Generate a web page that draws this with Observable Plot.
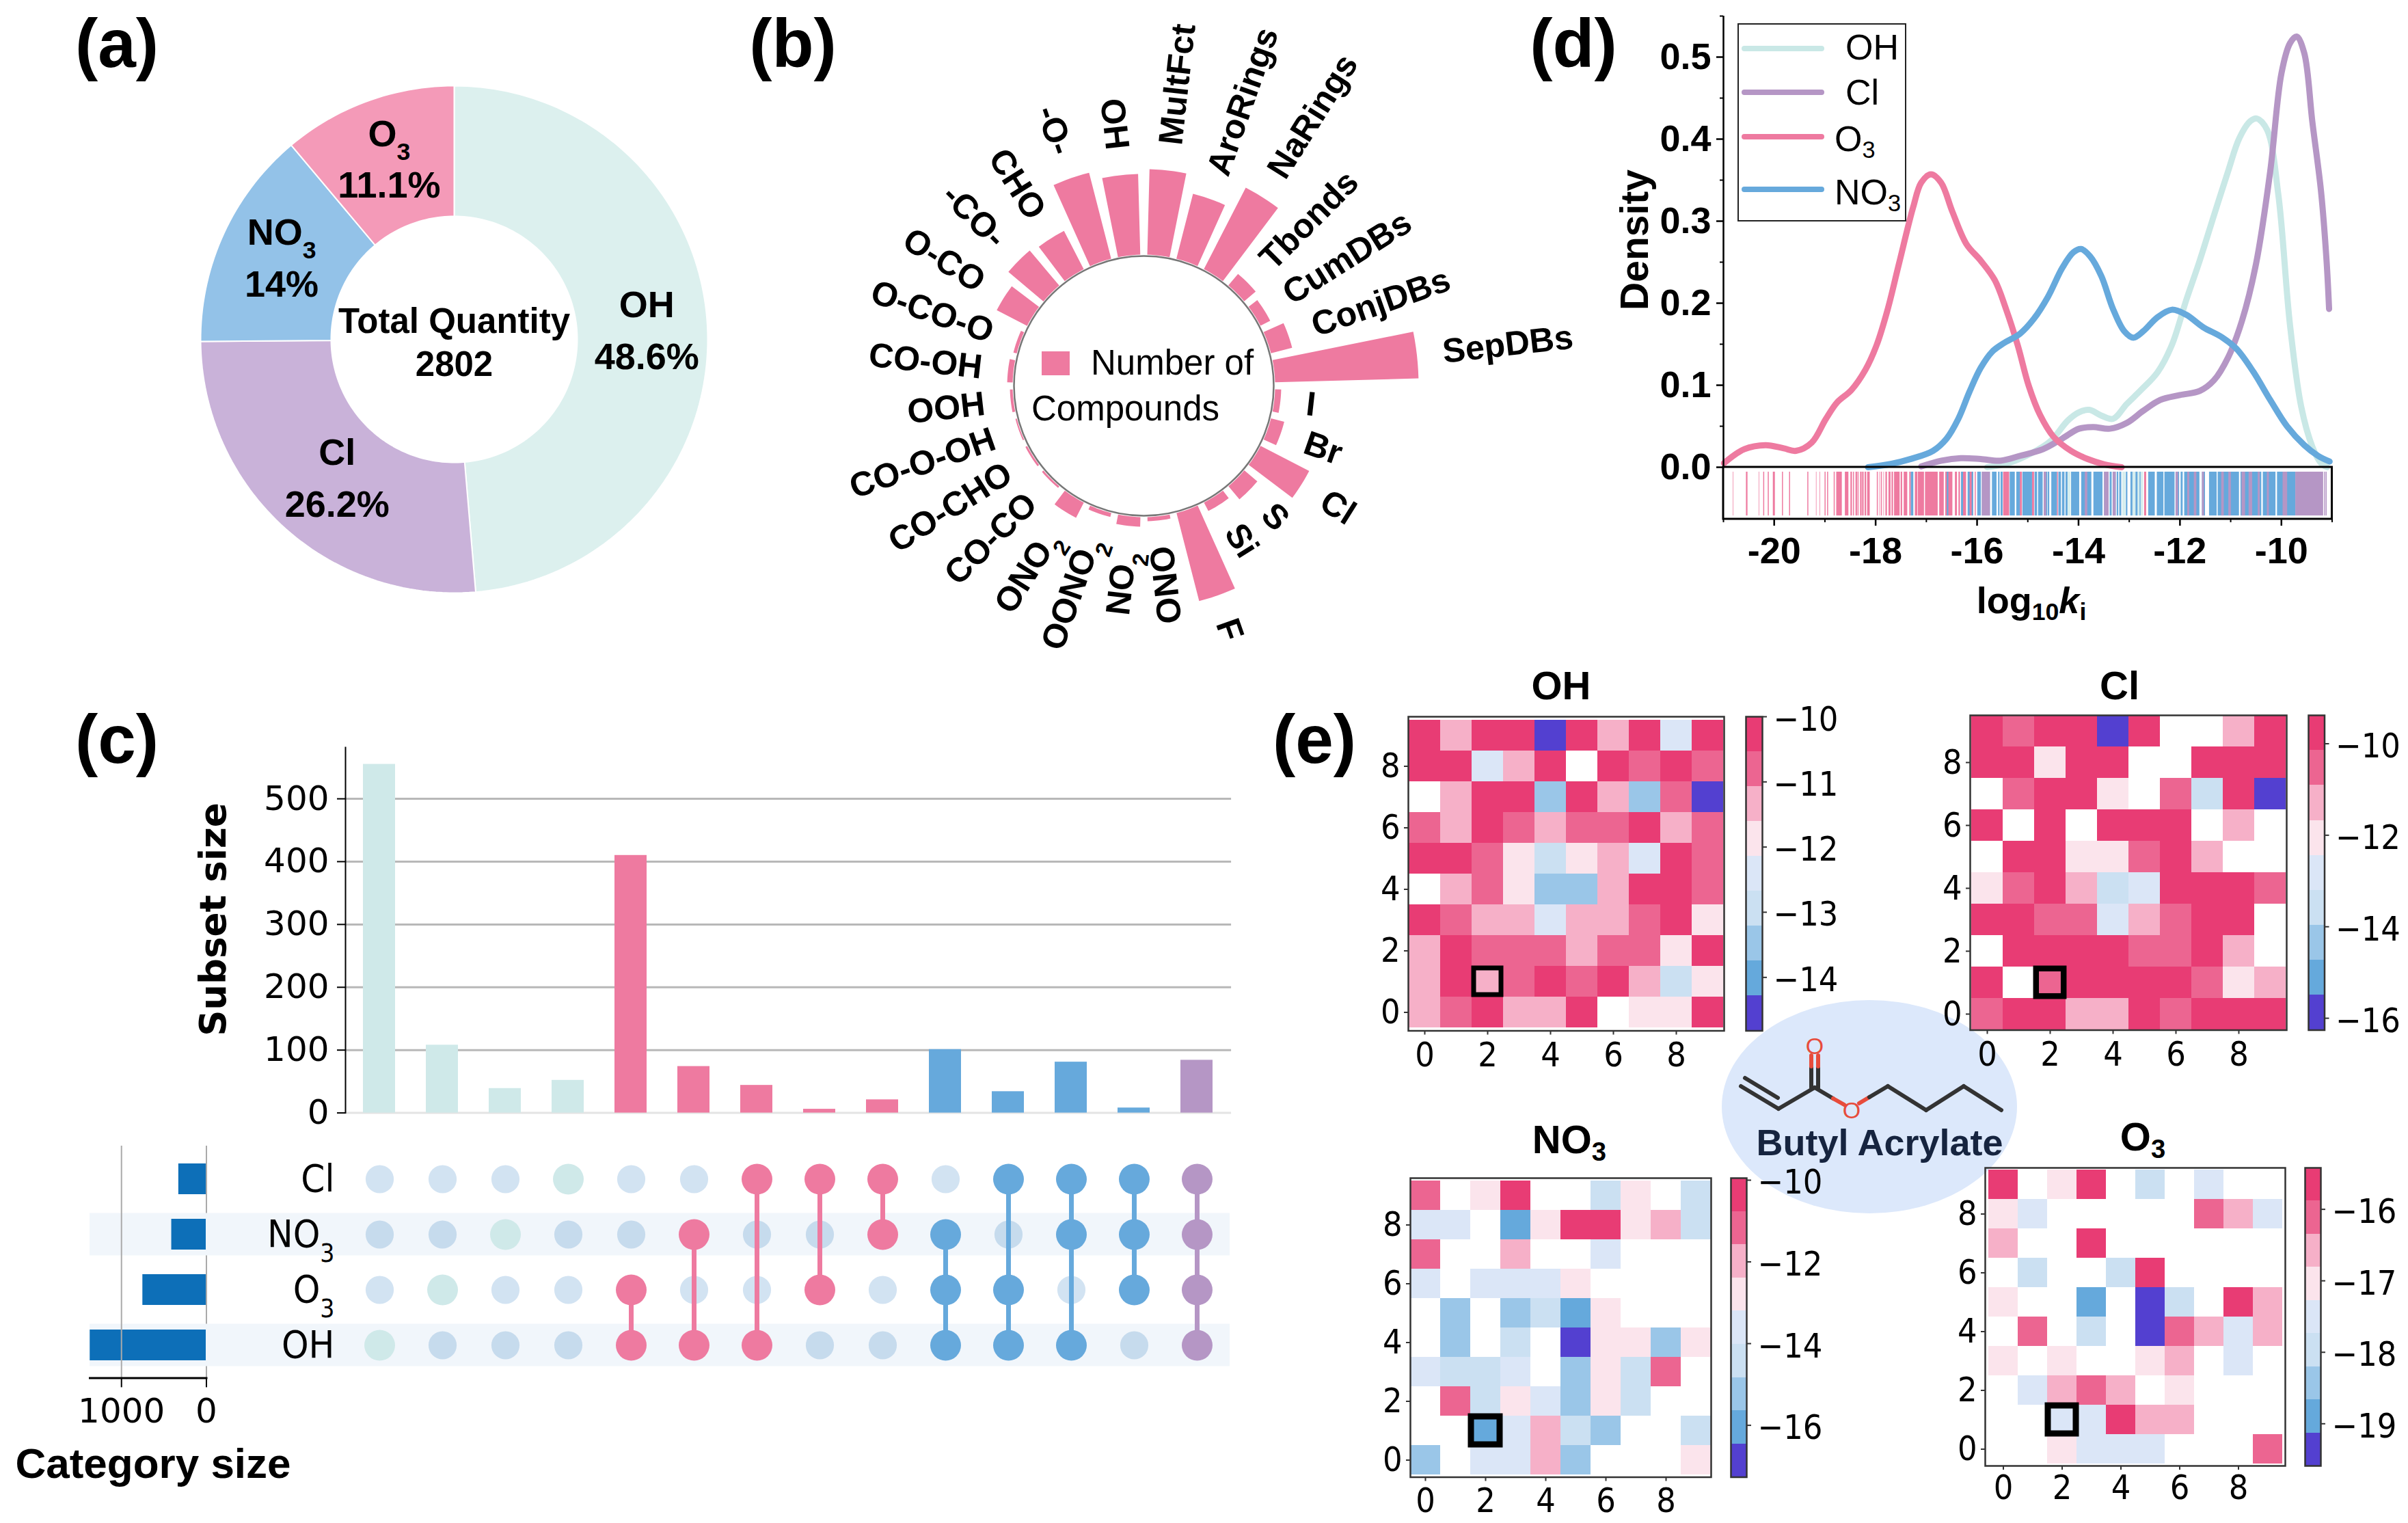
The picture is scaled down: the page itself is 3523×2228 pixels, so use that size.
<!DOCTYPE html>
<html><head><meta charset="utf-8">
<script src="https://cdn.jsdelivr.net/npm/d3@7"></script>
<script src="https://cdn.jsdelivr.net/npm/@observablehq/plot@0.6"></script>
<style>
html,body{margin:0;padding:0;background:#fff}
#root{position:relative;width:3523px;height:2228px;overflow:hidden;background:#fff}
.lb{position:absolute;white-space:nowrap;line-height:1;color:#000}
.lb sub{font-size:.66em;vertical-align:baseline;position:relative;top:.28em;line-height:0}
</style></head>
<body><div id="root"></div>
<script>
// ---------- (a) donut ----------
const sliceNames = ["OH","Cl","NO₃","O₃"];
const slicePercents = [48.6,26.2,14,11.1];
const sliceLabels = ["48.6%","26.2%","14%","11.1%"];
const sliceColors = ["#dcf0ee","#c9b2d9","#93c2e8","#f49ab8"];
const totalQuantity = 2802;

// ---------- (b) circular bars, clockwise from the top ----------
const groupNames = ["MultFct","AroRings","NaRings","Tbonds","CumDBs","ConjDBs","SepDBs","I","Br","Cl","S","Si","F","ONO","NO₂","OONO₂","ONO₂","CO-CO","CO-CHO","CO-O-OH","OOH","CO-OH","O-CO-O","O-CO","-CO-","CHO","-O-","OH"];
const groupCounts = [125,98,134,22,16,32,210,9,20,80,25,14,133,6,14,6,25,3,3,2,4,8,5,50,67,63,130,118];

// ---------- (c) upset ----------
const setNames = ["Cl","NO₃","O₃","OH"];
const setSizes = [327,410,750,1370];
const subsetSizes = [555,108,39,52,410,74,44,6,21,101,34,81,8,84];
const subsetMembers = [["OH"],["O₃"],["NO₃"],["Cl"],["O₃","OH"],["NO₃","OH"],["Cl","OH"],["Cl","O₃"],["Cl","NO₃"],["NO₃","O₃","OH"],["Cl","O₃","OH"],["Cl","NO₃","OH"],["Cl","NO₃","O₃"],["Cl","NO₃","O₃","OH"]];
const subsetTicks = [0,100,200,300,400,500];

// ---------- (d) density ----------
const kdeOH = [[-15.8,0],[-15.38,.005],[-14.93,.017],[-14.55,.032],[-14.21,.057],[-13.99,.067],[-13.79,.07],[-13.55,.063],[-13.32,.059],[-13.05,.077],[-12.77,.094],[-12.44,.116],[-12.16,.149],[-11.88,.203],[-11.61,.252],[-11.33,.307],[-11.05,.361],[-10.83,.401],[-10.61,.422],[-10.48,.425],[-10.28,.411],[-10.06,.332],[-9.83,.173],[-9.61,.074],[-9.39,.025],[-9.22,.005],[-9.1,0]];
const kdeCl = [[-17.1,.001],[-16.7,.008],[-16.32,.011],[-15.93,.01],[-15.54,.008],[-15.15,.014],[-14.7,.022],[-14.32,.035],[-13.99,.047],[-13.71,.049],[-13.38,.047],[-13.05,.054],[-12.72,.069],[-12.39,.082],[-12,.088],[-11.61,.093],[-11.33,.106],[-11.05,.134],[-10.78,.178],[-10.5,.248],[-10.22,.361],[-10,.48],[-9.83,.517],[-9.7,.525],[-9.55,.505],[-9.39,.421],[-9.22,.337],[-9.11,.252],[-9.06,.193]];
const kdeO3 = [[-20.99,.005],[-20.59,.022],[-20.17,.027],[-19.81,.023],[-19.57,.02],[-19.26,.03],[-18.98,.059],[-18.76,.079],[-18.48,.094],[-18.2,.119],[-17.98,.149],[-17.76,.193],[-17.54,.248],[-17.26,.317],[-17.1,.347],[-16.91,.357],[-16.71,.347],[-16.49,.312],[-16.21,.272],[-15.93,.252],[-15.65,.228],[-15.43,.193],[-15.2,.149],[-14.98,.099],[-14.76,.064],[-14.49,.037],[-14.15,.02],[-13.82,.01],[-13.49,.0035],[-13.15,0]];
const kdeNO3 = [[-18.15,0],[-17.7,.004],[-17.26,.011],[-16.87,.02],[-16.6,.035],[-16.37,.059],[-16.15,.092],[-15.93,.121],[-15.7,.141],[-15.48,.151],[-15.15,.163],[-14.88,.181],[-14.6,.208],[-14.32,.243],[-14.1,.262],[-13.95,.266],[-13.77,.257],[-13.55,.233],[-13.32,.193],[-13.1,.166],[-12.92,.158],[-12.72,.166],[-12.44,.183],[-12.16,.192],[-11.88,.186],[-11.55,.171],[-11.16,.158],[-10.88,.144],[-10.55,.116],[-10.22,.082],[-9.89,.05],[-9.55,.027],[-9.28,.014],[-9.05,.007]];
const densityTicks = [0,.1,.2,.3,.4,.5];
const densityMinor = [.05,.15,.25,.35,.45,.55];
const logTicks = [-20,-18,-16,-14,-12,-10];
const logMinor = [-21,-19,-17,-15,-13,-11,-9];
// rug runs read from the strip [from,to]
const rugO3 = [[-20.81,-20.80],[-20.55,-20.52],[-20.30,-20.29],[-20.21,-20.19],[-20.12,-20.10],[-20.02,-19.98],[-19.84,-19.82],[-19.70,-19.68],[-19.34,-19.32],[-19.17,-19.16],[-19.10,-19.09],[-19.00,-18.98],[-18.95,-18.93],[-18.82,-18.80],[-18.77,-18.66],[-18.60,-18.53],[-18.49,-18.46],[-18.44,-18.42],[-18.39,-18.36],[-18.35,-18.33],[-18.30,-18.27],[-18.26,-18.23],[-18.21,-18.18],[-18.16,-18.11],[-17.97,-17.95],[-17.92,-17.91],[-17.89,-17.87],[-17.84,-17.83],[-17.80,-17.77],[-17.74,-17.70],[-17.68,-17.65],[-17.63,-17.52],[-17.50,-17.47],[-17.44,-17.37],[-17.33,-17.30],[-17.22,-17.17],[-17.16,-17.04],[-17.02,-16.77],[-16.74,-16.65],[-16.62,-16.48],[-16.43,-16.39],[-16.36,-16.33],[-16.29,-16.21],[-16.17,-16.07],[-16.04,-16.02],[-15.48,-15.36],[-15.15,-15.11],[-14.91,-14.87],[-14.42,-14.40],[-12.70,-12.66]];
const rugNO3 = [[-17.30,-17.25],[-16.59,-16.56],[-16.31,-16.27],[-16.18,-16.14],[-16.10,-16.07],[-15.99,-15.92],[-15.90,-15.74],[-15.70,-15.61],[-15.58,-15.55],[-15.53,-15.49],[-15.35,-15.25],[-15.22,-15.15],[-15.10,-14.91],[-14.86,-14.81],[-14.79,-14.70],[-14.68,-14.61],[-14.60,-14.57],[-14.53,-14.42],[-14.39,-14.34],[-14.32,-14.27],[-14.25,-14.21],[-14.14,-13.98],[-13.94,-13.74],[-13.70,-13.52],[-13.49,-13.40],[-13.38,-13.34],[-13.32,-13.26],[-13.24,-13.21],[-13.19,-13.15],[-13.06,-13.03],[-12.97,-12.93],[-12.87,-12.83],[-12.79,-12.77],[-12.62,-12.49],[-12.45,-12.32],[-12.30,-12.10],[-12.08,-12.01],[-11.98,-11.94],[-11.91,-11.61],[-11.56,-11.50],[-11.42,-11.27],[-11.25,-10.83],[-10.80,-10.39],[-10.36,-10.11],[-10.08,-9.72]];
const rugCl = [[-15.90,-15.74],[-14.68,-14.63],[-13.87,-13.82],[-13.49,-13.40],[-13.32,-13.26],[-12.08,-12.03],[-11.85,-11.81],[-11.72,-11.67],[-11.56,-11.52],[-11.18,-11.13],[-11.04,-10.99],[-10.78,-10.71],[-10.64,-10.57],[-10.46,-10.42],[-10.28,-10.24],[-9.97,-9.88],[-9.72,-9.17],[-9.15,-9.13],[-9.12,-9.10]];
const rugOH = [[-14.21,-14.15],[-13.13,-13.07],[-12.93,-12.87],[-12.83,-12.79],[-12.77,-12.72]];

// ---------- (e) heat maps: colour band index per cell (0 = top of the bar), top row first ----------
const N = null;
const gridOH = [[0,2,0,0,8,0,2,0,4,0],[0,0,4,2,0,N,0,1,0,1],[N,2,0,0,6,0,2,6,1,8],[1,2,0,1,2,1,1,0,2,1],[0,0,1,3,5,3,2,4,0,1],[N,2,1,3,6,6,2,0,0,1],[0,1,2,2,4,2,2,1,0,3],[2,0,1,1,1,2,1,1,3,0],[2,0,2,1,0,1,0,2,5,3],[2,1,0,2,2,0,N,3,3,0]];
const gridCl = [[0,1,0,0,8,0,N,N,2,0],[0,0,3,0,0,N,N,0,0,0],[N,1,0,0,3,N,1,5,0,8],[0,N,0,N,0,0,0,N,2,N],[N,0,0,3,3,1,0,2,N,N],[3,1,0,2,5,4,0,0,0,1],[0,0,1,1,4,2,1,0,0,N],[N,0,0,0,0,1,1,0,2,N],[0,N,1,0,0,0,0,1,3,2],[1,0,0,2,2,0,1,0,0,0]];
const gridNO3 = [[1,N,3,0,N,N,5,3,N,5],[4,4,N,7,3,0,0,3,2,5],[1,N,N,2,N,N,4,N,N,N],[4,N,4,4,4,3,N,N,N,N],[N,6,N,6,5,7,3,N,N,N],[N,6,N,5,N,8,3,3,6,3],[4,5,5,4,N,6,3,5,1,N],[N,1,5,3,4,6,3,5,N,N],[N,N,7,4,2,5,6,N,N,5],[6,N,4,4,2,6,N,N,N,3]];
const gridO3 = [[0,N,3,0,N,5,N,4,N,N],[3,4,N,N,N,N,N,1,2,4],[2,N,N,0,N,N,N,N,N,N],[N,5,N,N,5,0,N,N,N,N],[3,N,N,7,N,8,5,N,0,2],[N,1,N,5,N,8,1,2,4,2],[3,N,3,N,N,3,2,N,4,N],[N,4,2,1,2,N,3,N,N,N],[N,N,4,4,0,2,2,N,N,N],[N,N,3,4,4,4,N,N,N,1]];
const barLimitsOH = [-14.82,-10], barLimitsCl = [-16.26,-9.38], barLimitsNO3 = [-17.27,-9.95], barLimitsO3 = [-19.59,-15.42];
const barTicksOH = [-10,-11,-12,-13,-14], barTicksCl = [-10,-12,-14,-16], barTicksNO3 = [-10,-12,-14,-16], barTicksO3 = [-16,-17,-18,-19];
const bandColors = ["#e83c74","#ec6591","#f6b0c8","#fbe4ec","#dbe6f7","#cbe0f2","#9ac6e8","#65a9dc","#5340d0"];

// ---------- helpers ----------
const ARIAL = '"Liberation Sans",Arial,sans-serif';
const DV = '"DejaVu Sans",sans-serif';
const DVC = '"DejaVu Sans Condensed","DejaVu Sans",sans-serif';
const PINK="#ee7aa0", BLUE="#66a9dc", PURPLE="#b596c5", TEAL="#cfe9e9";
const root = document.getElementById("root");
const sty = f => ({background:"transparent",overflow:"visible",maxWidth:"none",height:"auto",fontFamily:f});
function subs(svg){
  const w = document.createTreeWalker(svg,NodeFilter.SHOW_TEXT), list=[];
  while(w.nextNode()) if(/[₂₃]/.test(w.currentNode.nodeValue)) list.push(w.currentNode);
  for(const n of list){
    const m = n.nodeValue.match(/^(.*)([₂₃])$/); if(!m) continue;
    const t = document.createElementNS("http://www.w3.org/2000/svg","tspan");
    t.setAttribute("baseline-shift","sub"); t.setAttribute("font-size","66%");
    t.textContent = m[2]==="₂"?"2":"3";
    n.nodeValue = m[1]; n.parentNode.insertBefore(t,n.nextSibling);
  }
}
function put(p,x,y){p.style.position="absolute";p.style.left=x+"px";p.style.top=y+"px";subs(p);root.append(p);return p;}
function label(html,x,y,o={}){
  const d=document.createElement("div");d.className="lb";d.innerHTML=html;
  d.style.left=x+"px";d.style.top=y+"px";
  d.style.fontFamily=o.family||ARIAL;d.style.fontSize=(o.size||50)+"px";d.style.fontWeight=o.weight||"normal";
  if(o.color)d.style.color=o.color;
  const tx=o.anchor==="start"?"0":"-50%";
  d.style.transform=`translate(${tx},-50%)`+(o.rotate?` rotate(${o.rotate}deg)`:"");
  root.append(d);return d;
}
function box(x,y,w,h,css){const d=document.createElement("div");d.style.cssText=`position:absolute;left:${x}px;top:${y}px;width:${w}px;height:${h}px;box-sizing:border-box;${css}`;root.append(d);return d;}
const polar=(deg,r)=>{const a=deg*Math.PI/180;return {x:r*Math.sin(a),y:-r*Math.cos(a)};};

// panel letters
[["(a)",171,63],["(b)",1160,63],["(d)",2302,63],["(c)",171,1081],["(e)",1923,1081]].forEach(([t,x,y])=>label(t,x,y,{size:100,weight:"bold"}));

// ---------- (a) ----------
(function(){
  const R=371,r0=180,cx=664,cy=495.5,pad=380;
  const nudge=[[4,-7],[16,-8],[0,-8],[0,-8]];
  const total=d3.sum(slicePercents);let acc=0;const pts=[],mids=[];
  slicePercents.forEach((v,i)=>{
    const a0=acc/total*360,a1=(acc+v)/total*360;acc+=v;
    const n=Math.ceil((a1-a0)/1.5);
    for(let k=0;k<=n;k++)pts.push({s:i,...polar(a0+(a1-a0)*k/n,R)});
    for(let k=n;k>=0;k--)pts.push({s:i,...polar(a0+(a1-a0)*k/n,r0)});
    pts.push({s:i,...polar(a0,R)});
    const p=polar((a0+a1)/2,278);
    mids.push({text:sliceNames[i]+"\n"+sliceLabels[i],x:p.x+nudge[i][0],y:p.y+nudge[i][1]});
  });
  put(Plot.plot({width:2*pad,height:2*pad,margin:0,style:sty(ARIAL),
    x:{domain:[-pad,pad],axis:null},y:{domain:[pad,-pad],axis:null},color:{type:"identity"},
    marks:[
      Plot.line(pts,{x:"x",y:"y",z:"s",fill:d=>sliceColors[d.s],stroke:"white",strokeWidth:2}),
      Plot.text(mids,{x:"x",y:"y",text:"text",fontSize:54,fontWeight:"bold",fill:"black",lineHeight:1.4}),
      Plot.text([{x:0,y:0}],{x:"x",y:"y",dy:2,text:()=>"Total Quantity\n"+totalQuantity,fontSize:51,fontWeight:"bold",fill:"black",lineHeight:1.24})
    ]}),cx-pad,cy-pad);
})();

// ---------- (b) ----------
(function(){
  const r0=190,cx=1673,cy=564,gap=40,step=360/groupNames.length,first=6.4,hw=4.9;
  const L=430,Rt=560,T=564,B=446,pts=[];
  const rows=groupNames.map((name,i)=>({name,i,v:groupCounts[i],a:first+i*step}));
  rows.forEach(d=>{
    for(let k=0;k<=6;k++)pts.push({i:d.i,...polar(d.a-hw+2*hw*k/6,r0+d.v+2)});
    for(let k=6;k>=0;k--)pts.push({i:d.i,...polar(d.a-hw+2*hw*k/6,r0+2)});
  });
  const lab=d=>polar(d.a,r0+d.v+gap);
  const common={x:d=>lab(d).x,y:d=>lab(d).y,text:"name",fontSize:50,fontWeight:"bold",fill:"black"};
  put(Plot.plot({width:L+Rt,height:T+B,margin:0,style:sty(ARIAL),
    x:{domain:[-L,Rt],axis:null},y:{domain:[B,-T],axis:null},
    marks:[
      Plot.dot([{x:0,y:0}],{x:"x",y:"y",r:r0,fill:"white",stroke:"#777",strokeWidth:2.5}),
      Plot.line(pts,{x:"x",y:"y",z:"i",fill:PINK,stroke:"none"}),
      Plot.text(rows.filter(d=>d.i<=12),{...common,textAnchor:"start",rotate:d=>d.a-90}),
      Plot.text(rows.filter(d=>d.i>12),{...common,textAnchor:"end",rotate:d=>d.a+90})
    ]}),cx-L,cy-T);
  box(1524,514,41,35,`background:${PINK}`);
  label("Number of",1596,530,{size:51,anchor:"start"});
  label("Compounds",1509,597,{size:51,anchor:"start"});
})();

// ---------- (c) ----------
(function(){
  const colour=m=>m.length===1?TEAL:m.length===2?PINK:m.length===3?BLUE:PURPLE;
  const cols=subsetSizes.map((_,i)=>i);
  const table=subsetSizes.map((size,i)=>({i,size,fill:colour(subsetMembers[i])}));
  // bars
  const left=504.7,right=1800.8,ml=200,top0=1092.7,y0=1627.3;
  put(Plot.plot({width:right-left+ml,height:y0-top0+50,marginLeft:ml,marginRight:0,marginTop:0,marginBottom:50,style:sty(DV),
    x:{type:"band",domain:cols,paddingInner:.484,paddingOuter:.242,axis:null},
    y:{domain:[0,581.7]},color:{type:"identity"},
    marks:[
      Plot.ruleY([0],{stroke:"#e4e4e4",strokeWidth:3}),
      Plot.ruleY(subsetTicks.slice(1),{stroke:"#b8b8b8",strokeWidth:3}),
      Plot.barY(table,{x:"i",y:"size",fill:"fill"}),
      Plot.frame({anchor:"left",stroke:"black",strokeWidth:2}),
      Plot.axisY({ticks:subsetTicks,tickSize:12,tickPadding:12,fontSize:50,label:null,strokeWidth:2,fill:"black"})
    ]}),left-ml,top0);
  label("Subset size",311,1345,{family:DV,size:53,weight:"bold",rotate:-90});

  // category bars
  const yDom=setNames, yR=[7.2,332.4], stripes=["NO₃","OH"], rows=setNames.map((s,i)=>({s,size:setSizes[i]}));
  const gTop=1675.6, frameH=339.4;
  put(Plot.plot({width:170.5,height:frameH+80,margin:0,marginBottom:80,style:sty(DV),
    x:{domain:[1372,0],axis:null},y:{type:"band",domain:yDom,range:yR,padding:0,axis:null},
    marks:[
      Plot.cell(stripes,{y:d=>d,fill:"#f1f6fb",insetTop:9.5,insetBottom:9.5}),
      Plot.barX(rows,{x1:()=>0,x2:"size",y:"s",fill:"#0d6fb8",insetTop:18,insetBottom:18}),
      Plot.ruleX([1000,0],{stroke:"#aaa",strokeWidth:2}),
      Plot.frame({anchor:"bottom",stroke:"black",strokeWidth:3}),
      Plot.axisX({ticks:[1000,0],tickSize:14,tickPadding:16,fontSize:50,tickFormat:d=>String(d),label:null,strokeWidth:2,fill:"black"})
    ]}),130.5,gTop);
  label("Category size",224,2141,{size:62,weight:"bold"});

  // matrix
  const mLeft=301, mW=1498;
  const cells=[];cols.forEach(i=>setNames.forEach(s=>cells.push({i,s,on:subsetMembers[i].includes(s),m:subsetMembers[i]})));
  const offFill=d=>stripes.includes(d.s)?"#c6dbed":"#d2e3f2";
  const onFill=d=>colour(d.m);
  const links=cells.filter(d=>d.on&&d.m.length>1);
  put(Plot.plot({width:mW,height:frameH,margin:0,style:sty(DVC),
    x:{type:"band",domain:cols,range:[left-mLeft,right-mLeft],padding:0,axis:null},
    y:{type:"band",domain:yDom,range:yR,padding:0,axis:null},color:{type:"identity"},
    marks:[
      Plot.cell(stripes,{y:d=>d,fill:"#f1f6fb",insetTop:9.5,insetBottom:9.5}),
      Plot.dot(cells.filter(d=>!d.on),{x:"i",y:"s",r:20.6,fill:offFill}),
      Plot.line(links,{x:"i",y:"s",z:"i",stroke:onFill,strokeWidth:7}),
      Plot.dot(cells.filter(d=>d.on),{x:"i",y:"s",r:22.5,fill:onFill}),
      Plot.text(setNames,{y:d=>d,text:d=>d,frameAnchor:"left",dx:188,textAnchor:"end",fontSize:56,fill:"black"})
    ]}),mLeft,gTop);
})();

// ---------- (d) ----------
(function(){
  const ml=120,mb=90,L=2521,Rg=3411.5,T=23,B=759;
  const ser=[[kdeOH,"#c9e8e6"],[kdeCl,PURPLE],[kdeO3,PINK],[kdeNO3,BLUE]];
  const ry=[-.0592,-.0058];
  const rug=(arr,fill,o={})=>Plot.rect(arr,{x1:d=>d[0],x2:d=>d[1],y1:()=>ry[0],y2:()=>ry[1],fill,...o});
  put(Plot.plot({width:Rg-L+ml+10,height:B-T+mb,marginLeft:ml,marginRight:10,marginTop:0,marginBottom:mb,style:sty(ARIAL),
    x:{domain:[-21,-9]},y:{domain:[-.0633,.55]},
    marks:[
      rug(rugO3,PINK),rug(rugOH,"#d6eeee"),rug(rugNO3,BLUE),rug(rugCl,PURPLE),
      ...ser.map(([s,c])=>Plot.line(s,{x:d=>d[0],y:d=>d[1],stroke:c,strokeWidth:9,curve:"catmull-rom"})),
      Plot.rect([0],{x1:()=>-21,x2:()=>-9,y1:()=>-.0633,y2:()=>0,fill:"none",stroke:"black",strokeWidth:3}),
      Plot.ruleX([-21],{y1:0,y2:.55,stroke:"black",strokeWidth:2.5}),
      Plot.axisY({ticks:densityTicks,tickSize:10,tickPadding:8,fontSize:54,fontWeight:"bold",tickFormat:d3.format(".1f"),label:null,strokeWidth:2.5,fill:"black"}),
      Plot.axisY({ticks:densityMinor,tickSize:5,tickFormat:()=>"",label:null,strokeWidth:2}),
      Plot.axisX({ticks:logTicks,tickSize:10,tickPadding:16,fontSize:54,fontWeight:"bold",tickFormat:d=>"-"+Math.abs(d),label:null,strokeWidth:2.5,fill:"black"}),
      Plot.axisX({ticks:logMinor,tickSize:5,tickFormat:()=>"",label:null,strokeWidth:2})
    ]}),L-ml,T);
  label("Density",2391,351,{size:57,weight:"bold",rotate:-90});
  label("log<sub>10</sub><i>k</i><sub>i</sub>",2972,878,{size:54,weight:"bold"});
  box(2542,34,247,290,"border:2.5px solid #222");
  [[71,"#c9e8e6"],[135,PURPLE],[200,PINK],[277,BLUE]].forEach(([y,c])=>box(2548,y-4,121,8,`background:${c};border-radius:4px`));
  label("OH",2700,69,{size:52,anchor:"start"});label("Cl",2700,135,{size:52,anchor:"start"});
  label("O<sub>3</sub>",2684,203,{size:52,anchor:"start"});label("NO<sub>3</sub>",2684,281,{size:52,anchor:"start"});
})();

// ---------- (e) ----------
box(2518.5,1462.5,432,312,"background:#dce8fb;border-radius:50%");
(function(){
  const levels=d3.range(9), ten=d3.range(10);
  function heat(grid,lim,ticks,g){
    const cellsT=grid.flatMap((row,r)=>row.map((lv,c)=>({c,r:9-r,lv}))).filter(d=>d.lv!==null);
    const ml=80,mb=70;
    put(Plot.plot({width:g.x1-g.x0+ml+2,height:g.y1-g.y0+mb+2,marginLeft:ml,marginRight:2,marginTop:2,marginBottom:mb,style:sty(DVC),
      x:{type:"band",domain:ten,padding:0},y:{type:"band",domain:[...ten].reverse(),padding:0},
      color:{type:"ordinal",domain:levels,range:bandColors},
      marks:[
        Plot.cell(cellsT,{x:"c",y:"r",fill:"lv",shapeRendering:"crispEdges"}),
        Plot.cell([{c:2,r:1}],{x:"c",y:"r",fill:"none",stroke:"black",strokeWidth:g.bw,inset:g.bi}),
        Plot.frame({stroke:"#333",strokeWidth:2.5}),
        Plot.axisX({ticks:[0,2,4,6,8],tickSize:6,tickPadding:g.xp,fontSize:50,label:null,stroke:"#333",strokeWidth:2,fill:"black"}),
        Plot.axisY({ticks:[0,2,4,6,8],tickSize:6,tickPadding:6,fontSize:50,label:null,stroke:"#333",strokeWidth:2,fill:"black"})
      ]}),g.x0-ml,g.y0-2);
    const [lo,hi]=lim;
    const bands=levels.map(i=>({lv:i,top:hi-(hi-lo)*i/9,bot:hi-(hi-lo)*(i+1)/9}));
    put(Plot.plot({width:g.c1-g.c0+130,height:g.y1-g.y0+4,marginLeft:0,marginRight:130,marginTop:2,marginBottom:2,style:sty(DVC),
      x:{domain:[0,1],axis:null},y:{domain:[lo,hi]},color:{type:"ordinal",domain:levels,range:bandColors},
      marks:[
        Plot.rect(bands,{x1:()=>0,x2:()=>1,y1:"bot",y2:"top",fill:"lv",shapeRendering:"crispEdges"}),
        Plot.frame({stroke:"#333",strokeWidth:2.5}),
        Plot.axisY({anchor:"right",ticks,tickSize:6,tickFormat:()=>"",label:null,stroke:"#333",strokeWidth:2}),
        Plot.axisY({anchor:"right",ticks,tickSize:0,tickPadding:16,dy:4,fontSize:50,tickFormat:d=>"−"+Math.abs(d),label:null,fill:"black"})
      ]}),g.c0,g.y0-2);
  }
  heat(gridOH,barLimitsOH,barTicksOH,{x0:2060,x1:2522,y0:1048,y1:1507.5,c0:2553.5,c1:2577.5,bw:7,bi:3,xp:10});
  heat(gridCl,barLimitsCl,barTicksCl,{x0:2882,x1:3345,y0:1046,y1:1506.5,c0:3376.5,c1:3400,bw:8.5,bi:2.8,xp:10});
  heat(gridNO3,barLimitsNO3,barTicksNO3,{x0:2062.5,x1:2502.5,y0:1722.5,y1:2160,c0:2532,c1:2555,bw:9,bi:1,xp:9});
  heat(gridO3,barLimitsO3,barTicksO3,{x0:2903.5,x1:3342.5,y0:1708,y1:2144,c0:3372,c1:3395,bw:9,bi:1,xp:7});
  label("OH",2284,1003,{size:58,weight:"bold"});
  label("Cl",3101,1003,{size:58,weight:"bold"});
  label("NO<sub>3</sub>",2296,1667,{size:58,weight:"bold"});
  label("O<sub>3</sub>",3135,1663,{size:58,weight:"bold"});
  label("Butyl Acrylate",2750,1671,{size:54,weight:"bold",color:"#16243f"});
})();

// molecule sketch (decoration, not data)
(function(){
  const ns="http://www.w3.org/2000/svg";
  const s=document.createElementNS(ns,"svg");
  s.setAttribute("width",3523);s.setAttribute("height",2228);
  s.style.cssText="position:absolute;left:0;top:0;pointer-events:none";
  const seg=(a,b,c,d,col)=>{const l=document.createElementNS(ns,"line");
    l.setAttribute("x1",a);l.setAttribute("y1",b);l.setAttribute("x2",c);l.setAttribute("y2",d);
    l.setAttribute("stroke",col);l.setAttribute("stroke-width",6);l.setAttribute("stroke-linecap","round");s.append(l);};
  const K="#333",Rd="#e74c3c";
  seg(2547,1589,2602,1622,K);seg(2553,1577,2601,1606,K);seg(2602,1622,2655,1591,K);
  seg(2650,1591,2650,1560,K);seg(2660,1591,2660,1560,K);seg(2650,1560,2650,1544,Rd);seg(2660,1560,2660,1544,Rd);
  seg(2655,1591,2682,1607,K);seg(2682,1607,2698,1616,Rd);seg(2720,1614,2735,1605,Rd);seg(2735,1605,2762,1589,K);
  seg(2762,1589,2818,1624,K);seg(2818,1624,2873,1589,K);seg(2873,1589,2928,1624,K);
  const t=(x,y)=>{const e=document.createElementNS(ns,"text");e.setAttribute("x",x);e.setAttribute("y",y);e.setAttribute("fill",Rd);
    e.setAttribute("font-family",'"Liberation Sans"');e.setAttribute("font-size",34);e.setAttribute("text-anchor","middle");e.textContent="O";s.append(e);};
  t(2655,1542);t(2709,1636);
  root.append(s);
})();
</script></body></html>
